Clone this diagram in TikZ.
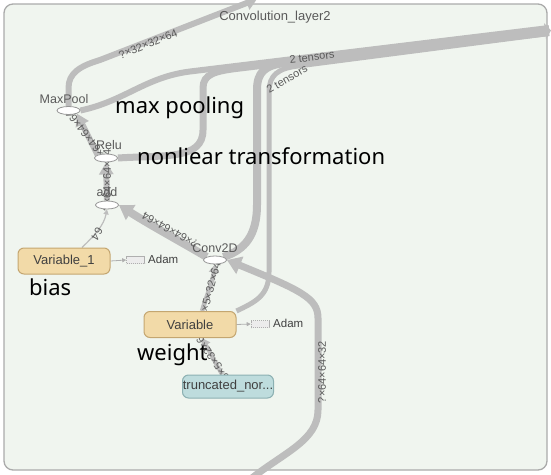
\documentclass[tikz,border=0pt]{standalone}
\usepackage{fontspec}
\setmainfont{Liberation Sans}
\newfontfamily\annotfont{Noto Sans}
\usetikzlibrary{shapes.geometric,arrows.meta,backgrounds}
\definecolor{bgbox}{RGB}{240,245,239}
\definecolor{boxline}{RGB}{170,170,170}
\definecolor{edgec}{RGB}{189,189,189}
\definecolor{opline}{RGB}{150,150,150}
\definecolor{varfill}{RGB}{242,218,168}
\definecolor{varline}{RGB}{196,166,112}
\definecolor{tnfill}{RGB}{190,220,221}
\definecolor{tnline}{RGB}{140,176,178}
\definecolor{lblc}{RGB}{90,90,90}
\definecolor{txtc}{RGB}{64,64,64}
\definecolor{adamfill}{RGB}{236,236,236}
\definecolor{adamline}{RGB}{175,175,175}
\begin{document}
\begin{tikzpicture}[x=1pt,y=-1pt,
  opnode/.style={ellipse, draw=opline, fill=white, line width=0.8pt, minimum width=23pt, minimum height=8pt, inner sep=0pt},
  oplabel/.style={text=lblc, font=\fontsize{12.5}{14}\selectfont, inner sep=0pt},
  varbox/.style={rectangle, rounded corners=6pt, draw=varline, fill=varfill, line width=1pt, minimum width=92pt, minimum height=26pt, inner sep=0pt, text=txtc, font=\fontsize{13}{15}\selectfont},
  tnbox/.style={varbox, draw=tnline, fill=tnfill, minimum width=91pt, minimum height=23pt},
  adambox/.style={rectangle, draw=adamline, dash pattern=on 1.2pt off 0.8pt, fill=adamfill, minimum width=18pt, minimum height=7pt, inner sep=0pt, line width=0.6pt},
  adamlabel/.style={font=\fontsize{11.5}{13}\selectfont, text=txtc, inner sep=0pt, anchor=west},
  conn/.style={draw=edgec, line cap=butt},
  elabel/.style={font=\fontsize{11}{12}\selectfont, text=lblc, inner sep=0pt},
  annot/.style={font=\annotfont\fontsize{22}{26}\selectfont, text=black, inner sep=0pt, anchor=base west},
]
\useasboundingbox (0,0) rectangle (551,474);

% nodes
\node[opnode] (maxpool) at (68.5,110.5) {};
\node[oplabel] (maxpoolL) at (64,99) {MaxPool};
\node[opnode] (relu) at (106,158) {};
\node[oplabel] (reluL) at (109,145) {Relu};
\node[opnode] (add) at (107,205) {};
\node[oplabel] (addL) at (107,192) {add};
\node[opnode] (conv) at (215,260) {};
\node[oplabel] (convL) at (215,248) {Conv2D};
\node[varbox] (var1) at (64,261) {Variable\_1};
\node[adambox] (adam1) at (135.5,260) {};
\node[adamlabel] (adam1L) at (148,259.5) {Adam};
\node[varbox] (var) at (190,324.5) {Variable};
\node[adambox] (adam2) at (260,324) {};
\node[adamlabel] (adam2L) at (273,323.5) {Adam};
\node[tnbox] (tn) at (228,386.5) {truncated\_nor...};
\node[oplabel, font=\fontsize{13}{15}\selectfont] (convlayer) at (275,17) {Convolution\_layer2};

\coordinate (topout) at (257,-1);
\coordinate (rout1) at (549,28);
\coordinate (rout2) at (551,30.5);
\coordinate (rout3) at (549,32);
\coordinate (rout4) at (549,33.5);
\coordinate (inbot) at (252,478);

\begin{pgfonlayer}{background}
\draw[draw=boxline, fill=bgbox, line width=1.3pt, rounded corners=9pt] (4,4) rectangle (547,470);

% MaxPool -> Convolution_layer2
\draw[conn, line width=6pt, -{Triangle[length=11pt,width=14pt]}] (maxpool.north) -- (68.5,88) .. controls (68.5,73) and (80,66) .. (100,60) -- (topout);
% bundle to the right
\draw[conn, line width=6pt] (maxpool.east) .. controls (125,101) and (145,77.2) .. (190,71.5) -- (rout1);
\draw[conn, line width=7pt, -{Triangle[length=6pt,width=16pt]}] (relu.east) .. controls (165,155) and (203,160) .. (203,130) -- (203,88) .. controls (203,74) and (215,70.9) .. (240,68) -- (rout2);
\draw[conn, line width=8pt] (conv.north east) .. controls (245,250) and (257,235) .. (257,205) -- (257,90) .. controls (257,72) and (265,65.2) .. (285,63) -- (rout3);
\draw[conn, line width=5pt] (var.north east) .. controls (255,302) and (269,296) .. (269,272) -- (269,92) .. controls (269,75) and (278,68.4) .. (298,66) -- (rout4);
% input from below into Conv2D
\draw[conn, line width=7pt, -{Triangle[length=14pt,width=18pt]}] (inbot) .. controls (285,452) and (318,440) .. (318,410) -- (318,318) .. controls (318,298) and (300,290) .. (conv.east);
% Conv2D -> add
\draw[conn, line width=8pt, -{Triangle[length=14pt,width=17pt]}] (conv.north west) .. controls (185,244) and (150,225) .. (add.east);
% add -> Relu
\draw[conn, line width=6pt, -{Triangle[length=12pt,width=14pt]}] (add.north) -- (relu.south);
% Relu -> MaxPool
\draw[conn, line width=6pt, -{Triangle[length=12pt,width=14pt]}] (relu.north west) -- (maxpool.south east);
% Variable_1 -> add
\draw[conn, line width=1.2pt, -{Triangle[length=5pt,width=5pt]}] ([xshift=18pt]var1.north) .. controls (95,235) and (104,225) .. (add.south);
% Variable -> Conv2D
\draw[conn, line width=4.5pt, -{Triangle[length=8pt,width=10pt]}] ([xshift=12pt]var.north) .. controls (207,295) and (213,280) .. (conv.south);
% truncated -> Variable
\draw[conn, line width=4pt, -{Triangle[length=8pt,width=10pt]}] ([xshift=-6pt]tn.north) -- ([xshift=12pt]var.south);
% to Adam
\draw[conn, line width=0.8pt, draw=adamline, -{Triangle[length=4pt,width=4pt]}] (var1.east) -- (adam1.west);
\draw[conn, line width=0.8pt, draw=adamline, -{Triangle[length=4pt,width=4pt]}] (var.east) -- (adam2.west);

% edge labels
\node[elabel, rotate=22] (l0) at (148,44) {?×32×32×64};
\node[elabel, rotate=128] (l1) at (87,136) {?×64×64×64};
\node[elabel, rotate=90] (l2) at (107,180) {?×64×64×64};
\node[elabel, rotate=151] (l3) at (170,230) {?×64×64×64};
\node[elabel, rotate=239] (l4) at (97,234) {64};
\node[elabel, rotate=75] (l5) at (210,290) {5×5×32×64};
\node[elabel, rotate=124] (l6) at (211,356) {5×5×32×64};
\node[elabel, rotate=90] (l7) at (322,372) {?×64×64×32};
\node[elabel, rotate=7] (l8) at (312,57) {2 tensors};
\node[elabel, rotate=30] (l9) at (287,79) {2 tensors};
\end{pgfonlayer}

% annotations
\node[annot] (a1) at (115,113) {max pooling};
\node[annot] (a2) at (137,164) {nonliear transformation};
\node[annot] (a3) at (29,295) {bias};
\node[annot] (a4) at (137,360) {weight};
\end{tikzpicture}
\end{document}
